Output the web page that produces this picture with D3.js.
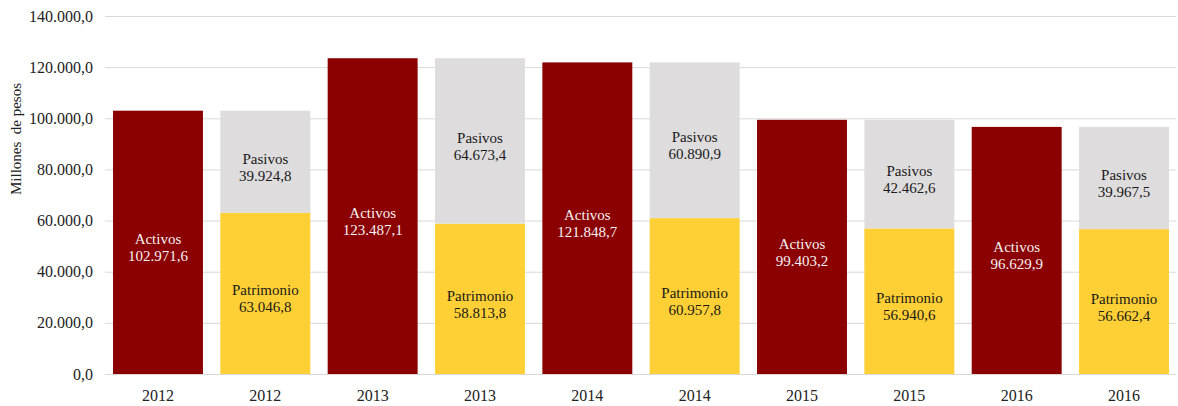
<!DOCTYPE html>
<html><head><meta charset="utf-8">
<script src="https://cdn.jsdelivr.net/npm/d3@7"></script>
<style>body{margin:0;background:#fff}svg{display:block}svg text, svg tspan{font-family:"Liberation Serif",serif !important}</style>
</head><body><svg id="c" width="1178" height="406" font-family="Liberation Serif"></svg>
<script>
const years = ["2012","2013","2014","2015","2016"];
const activos = [102971.6, 123487.1, 121848.7, 99403.2, 96629.9];
const patrimonio = [63046.8, 58813.8, 60957.8, 56940.6, 56662.4];
const pasivos = [39924.8, 64673.4, 60890.9, 42462.6, 39967.5];
const yTicks = [0, 20000, 40000, 60000, 80000, 100000, 120000, 140000];
const yTitle = "Millones  de pesos";

const FF = "Liberation Serif";
const loc = d3.formatLocale({decimal: ",", thousands: ".", grouping: [3], currency: ["$", ""]});
const fmt = loc.format(",.1f");

const svg = d3.select("#c");
const x = d3.scaleBand().domain(d3.range(years.length * 2)).range([105, 1177]).paddingInner(0.162).paddingOuter(0.0745);
const y = d3.scaleLinear().domain([0, 140000]).range([374, 16]);

// gridlines
svg.append("g").selectAll("line").data(yTicks).join("line")
  .attr("x1", 105).attr("x2", 1176)
  .attr("y1", d => y(d) + 0.5).attr("y2", d => y(d) + 0.5)
  .attr("stroke", "#d9d9d9").attr("stroke-width", 1);

// y axis labels
const yAxis = d3.axisLeft(y).tickValues(yTicks).tickFormat(fmt).tickSize(0).tickPadding(0);
const ga = svg.append("g").attr("transform", "translate(93,0)").call(yAxis);
ga.attr("font-family", FF).attr("font-size", 16);
ga.select(".domain").remove();
ga.selectAll("text").attr("font-size", 16).attr("fill", "#222").attr("font-family", FF);

svg.append("text").attr("transform", "translate(21,139) rotate(-90)")
  .attr("text-anchor", "middle").attr("font-size", 15).attr("fill", "#222").attr("font-family", FF)
  .attr("xml:space", "preserve").style("white-space", "pre").text(yTitle);

// x labels
const xl = d3.range(years.length * 2);
svg.append("g").selectAll("text").data(xl).join("text")
  .attr("x", d => x(d) + x.bandwidth() / 2).attr("y", 401)
  .attr("text-anchor", "middle").attr("font-size", 16).attr("fill", "#222").attr("font-family", FF)
  .text(d => years[Math.floor(d / 2)]);

const RED = "#8b0000", YEL = "#ffd035", GRY = "#dedcdd";
const g = svg.append("g");
g.selectAll("rect.a").data(activos).join("rect").attr("class", "a")
  .attr("x", (d, i) => x(i * 2)).attr("width", x.bandwidth())
  .attr("y", d => y(d)).attr("height", d => y(0) - y(d)).attr("fill", RED);
g.selectAll("rect.p").data(patrimonio).join("rect").attr("class", "p")
  .attr("x", (d, i) => x(i * 2 + 1)).attr("width", x.bandwidth())
  .attr("y", d => y(d)).attr("height", d => y(0) - y(d)).attr("fill", YEL);
g.selectAll("rect.s").data(pasivos).join("rect").attr("class", "s")
  .attr("x", (d, i) => x(i * 2 + 1)).attr("width", x.bandwidth())
  .attr("y", (d, i) => y(patrimonio[i] + d)).attr("height", (d, i) => y(patrimonio[i]) - y(patrimonio[i] + d)).attr("fill", GRY);

function label(cx, cy, name, val, color) {
  const t = svg.append("text").attr("text-anchor", "middle").attr("font-size", 15).attr("fill", color).attr("font-family", FF);
  t.append("tspan").attr("x", cx).attr("y", cy).attr("font-family", FF).text(name);
  t.append("tspan").attr("x", cx).attr("y", cy + 17).attr("font-family", FF).text(fmt(val));
}
activos.forEach((v, i) => label(x(i * 2) + x.bandwidth() / 2, (y(v) + y(0)) / 2 + 2, "Activos", v, "#f2f2f2"));
patrimonio.forEach((v, i) => label(x(i * 2 + 1) + x.bandwidth() / 2, (y(v) + y(0)) / 2 + 2, "Patrimonio", v, "#1a1a1a"));
pasivos.forEach((v, i) => label(x(i * 2 + 1) + x.bandwidth() / 2, (y(patrimonio[i] + v) + y(patrimonio[i])) / 2 + 2, "Pasivos", v, "#1a1a1a"));
</script></body></html>
